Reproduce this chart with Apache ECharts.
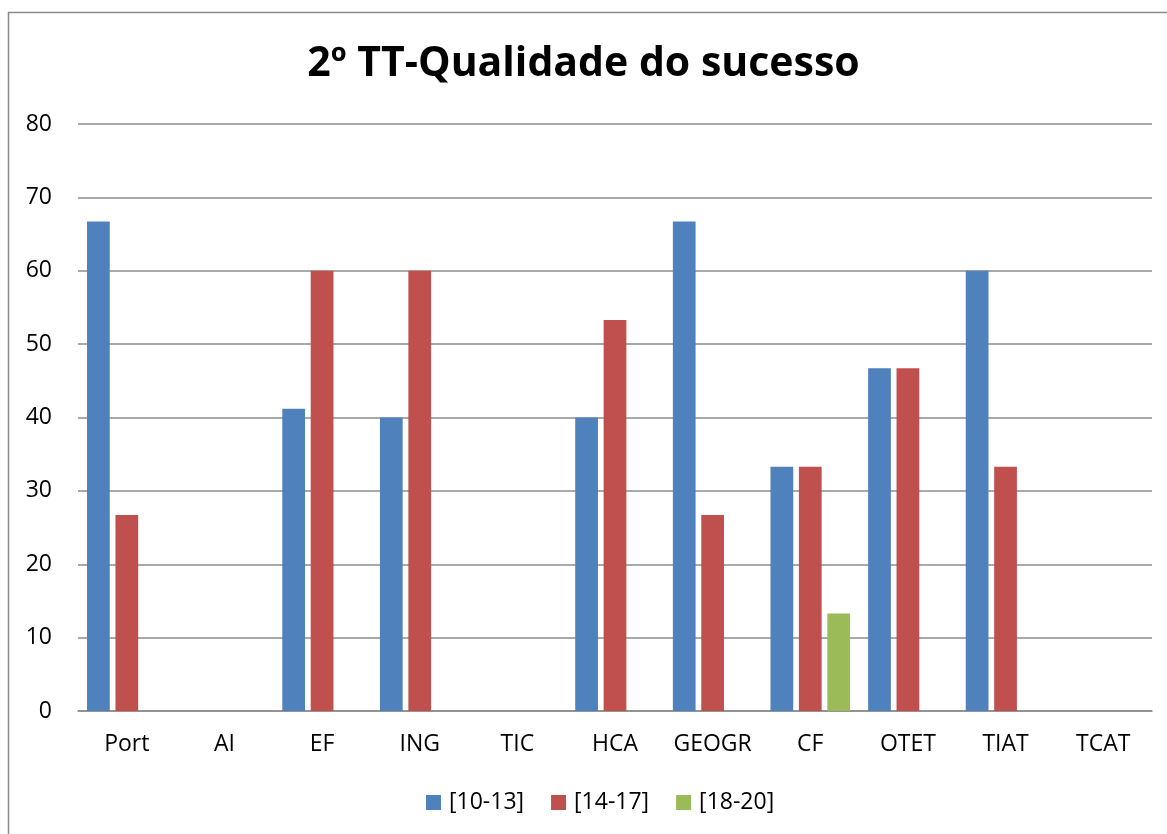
<!DOCTYPE html>
<html>
<head>
<meta charset="utf-8">
<script src="https://cdn.jsdelivr.net/npm/echarts@6/dist/echarts.min.js"></script>
<style>
html,body{margin:0;padding:0;background:#fff;}
#chart{width:1167px;height:834px;}
</style>
</head>
<body>
<div id="chart"></div>
<script>
const titleText = '2º TT-Qualidade do sucesso';
const categories = ['Port','AI','EF','ING','TIC','HCA','GEOGR','CF','OTET','TIAT','TCAT'];
const seriesNames = ['[10-13]','[14-17]','[18-20]'];
const s1013 = [66.7, 0, 41.2, 40, 0, 40, 66.7, 33.3, 46.7, 60, 0];
const s1417 = [26.7, 0, 60, 60, 0, 53.3, 26.7, 33.3, 46.7, 33.3, 0];
const s1820 = [0, 0, 0, 0, 0, 0, 0, 13.3, 0, 0, 0];
const colors = ['#4F81BD','#C0504D','#9BBB59'];
const FONT = 'Open Sans';

const chart = echarts.init(document.getElementById('chart'), null, {renderer:'canvas'});
const mk = (name, data, color) => ({
  name, type:'bar', data,
  barCategoryGap:'18.5%', barGap:'25%',
  itemStyle:{color},
  animation:false
});
chart.setOption({
  animation:false,
  title:{text:titleText, left:'center', top:39,
    textStyle:{fontFamily:FONT, fontWeight:'bold', fontSize:41, color:'#000'}},
  graphic:[{type:'rect', shape:{x:8.5,y:12.5,width:1300,height:1000},
    style:{fill:'none', stroke:'#8a8a8a', lineWidth:1.5}, silent:true}],
  legend:{bottom:15, left:421, itemWidth:15, itemHeight:15, itemGap:27,
    icon:'rect', data:seriesNames,
    textStyle:{fontFamily:FONT, fontSize:23, color:'#000', padding:[0,0,0,3]}},
  grid:{left:78, right:15, top:124, bottom:123, containLabel:false},
  xAxis:{type:'category', data:categories,
    axisLine:{show:true, lineStyle:{color:'#8c8c8c', width:1.5}},
    axisTick:{show:false},
    axisLabel:{fontFamily:FONT, fontSize:23, color:'#000', margin:22, interval:0}},
  yAxis:{type:'value', min:0, max:80, interval:10,
    axisLine:{show:false}, axisTick:{show:false},
    splitLine:{lineStyle:{color:'#8c8c8c', width:1.5}},
    axisLabel:{fontFamily:FONT, fontSize:23, color:'#000', margin:26, align:'right'}},
  series:[mk(seriesNames[0], s1013, colors[0]), mk(seriesNames[1], s1417, colors[1]), mk(seriesNames[2], s1820, colors[2])]
});
</script>
</body>
</html>
